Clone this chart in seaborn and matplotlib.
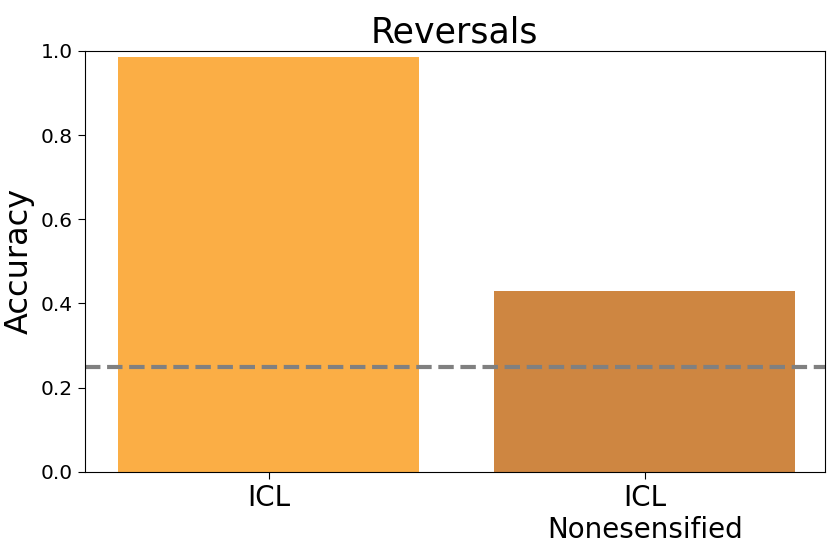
import matplotlib
matplotlib.use("Agg")
import matplotlib.pyplot as plt
import seaborn as sns
import pandas as pd

methods = ["ICL", "ICL\nNonesensified"]
accuracy = [0.986, 0.43]
bar_colors = ["#FBAE45", "#CE8641"]
chance = 0.25

df = pd.DataFrame({"method": methods, "accuracy": accuracy})

fig, ax = plt.subplots(figsize=(8.3, 5.52), dpi=100)
sns.barplot(data=df, x="method", y="accuracy", hue="method", palette=bar_colors,
            legend=False, width=0.8, saturation=1, ax=ax)
ax.axhline(chance, color="grey", linestyle="--", linewidth=3)

ax.set_ylim(0, 1)
ax.set_xlim(-0.49, 1.48)
ax.set_title("Reversals", fontsize=25)
ax.set_ylabel("Accuracy", fontsize=23)
ax.set_xlabel("")
ax.tick_params(axis="x", labelsize=20, length=5)
ax.tick_params(axis="y", labelsize=14.5, length=5)

plt.subplots_adjust(left=0.102, right=0.994, top=0.908, bottom=0.145)
plt.savefig("out.png", dpi=100)
